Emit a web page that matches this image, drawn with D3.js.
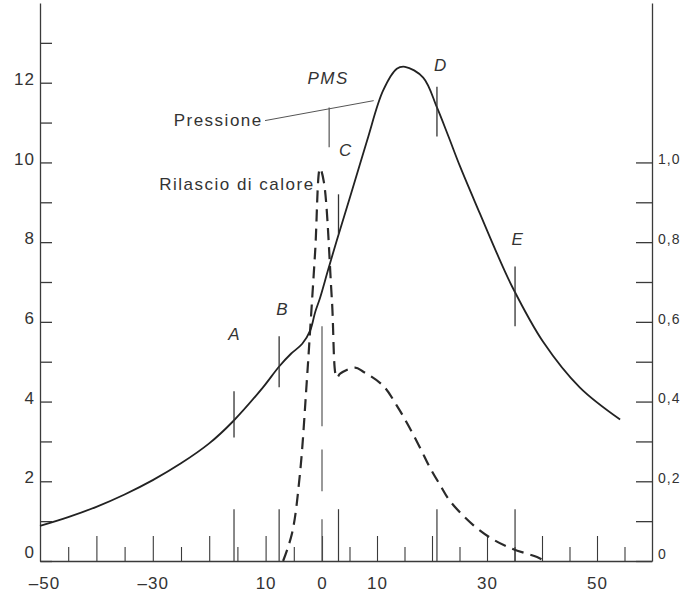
<!DOCTYPE html>
<html>
<head>
<meta charset="utf-8">
<script src="https://cdn.jsdelivr.net/npm/d3@7"></script>
<style>
  body { margin: 0; background: #fff; }
  svg { display: block; font-family: 'Liberation Sans', Arial, sans-serif; }
  .axis path, .axis line { stroke: #3a3a3a; stroke-width: 1.3; }
  .axis text { fill: #333; font-size: 17px; font-family: 'Liberation Sans', Arial, sans-serif; letter-spacing: 1px; }
  .note { fill: #333; font-size: 17px; letter-spacing: 1.5px; }
</style>
</head>
<body>
<svg></svg>
<script>
const d3 = window.d3

// crank angle (deg) / pressure (left scale)
let pressAngle = [-50, -45, -40, -35, -30, -25, -20, -15.8, -10.5, -7.6, -5.5, -3.5, -2.1, -1.2, -0.35, 1.1, 2.7, 5.1, 8.2, 11.1, 13.6, 15.1, 18.4, 20.9, 23, 25.1, 28.7, 31.7, 34.7, 40.2, 46.9, 54.2]
let pressValue = [0.88, 1.1, 1.36, 1.67, 2.03, 2.45, 2.95, 3.5, 4.35, 4.88, 5.2, 5.45, 5.78, 6.25, 6.6, 7.3, 8.05, 9.13, 10.55, 11.8, 12.35, 12.4, 12.13, 11.38, 10.65, 9.9, 8.72, 7.75, 6.85, 5.5, 4.35, 3.55]

// crank angle (deg) / heat release (right scale)
let heatAngle = [-6.9, -5.3, -3.9, -2.7, -2.1, -1.2, -0.35, 0.35, 1.8, 2.7, 3.3, 6, 7.5, 11.1, 13.6, 15.5, 17.8, 19.6, 21.5, 23.3, 27.5, 31, 34.7, 39.1, 40.5]
let heatValue = [0, 0.07, 0.22, 0.45, 0.58, 0.78, 0.985, 0.95, 0.655, 0.46, 0.47, 0.485, 0.475, 0.44, 0.39, 0.345, 0.285, 0.235, 0.19, 0.15, 0.09, 0.055, 0.03, 0.01, 0]

// points A..E marked on the pressure curve
let markNames = ['A', 'B', 'C', 'D', 'E']
let markAngle = [-15.6, -7.6, 3.0, 20.9, 35.1]
let markLow = [3.1, 4.36, 8.2, 10.65, 5.89]
let markHigh = [4.26, 5.64, 9.2, 11.9, 7.39]
let markLabelAngle = [-15.6, -7.1, 4.2, 21.5, 35.5]
let markLabelValue = [5.54, 6.17, 10.15, 12.3, 7.92]

// tick labels
let xTickValues = [-50, -30, -10, 0, 10, 30, 50]
let xTickLabels = ['\u201350', '\u201330', '10', '0', '10', '30', '50']
let leftTickLabels = ['0', '2', '4', '6', '8', '10', '12']
let rightTickLabels = ['0', '0,2', '0,4', '0,6', '0,8', '1,0']

// PMS (top dead centre) line pieces, in pressure units
let pmsSegments = [[0, 1.05], [1.75, 2.8], [3.38, 5.89]]

let width = 683
let height = 596

let svg = d3.select('svg')
    .attr('width', width)
    .attr('height', height)

// hand drawn scale: slightly wider degrees before TDC
let xScale = d3.scaleLinear()
                .domain([-50, 0, 60])
                .range([40, 322, 652])

let yScale = d3.scaleLinear()
                .domain([0, 14])
                .range([561, 3])

let yScaleRight = d3.scaleLinear()
                .domain([0, 1.4])
                .range([561, 3])

// bottom axis, ticks every 5 deg, longer every 10
let bottomTicks = d3.range(-50, 60, 5)
let xAxis = d3.axisBottom(xScale)
              .tickValues(bottomTicks)
              .tickSizeOuter(0)
              .tickPadding(6)
              .tickFormat(d => {
                let i = xTickValues.indexOf(d)
                return i < 0 ? '' : xTickLabels[i]
              })

let gx = svg.append('g')
    .attr('class', 'axis')
    .attr('transform', `translate(0, ${yScale(0)})`)
    .call(xAxis)

gx.selectAll('.tick line')
    .attr('y2', d => d === -50 ? 0 : (d % 10 === 0 ? -25 : -14))
    .style('stroke-width', 1.1)
gx.selectAll('.tick text')
    .attr('dy', '0.95em')
    .attr('dx', d => d === -50 ? 4 : 0)

// left axis, ticks pointing inward
let yAxis = d3.axisLeft(yScale)
              .tickValues(d3.range(0, 14))
              .tickSizeInner(-12)
              .tickSizeOuter(0)
              .tickPadding(5)
              .tickFormat(d => d % 2 === 0 ? leftTickLabels[d / 2] : '')

let gy = svg.append('g')
    .attr('class', 'axis')
    .attr('transform', `translate(${xScale(-50)}, 0)`)
    .call(yAxis)

gy.selectAll('.tick text')
    .attr('dy', d => d === 0 ? '-0.2em' : '0.1em')

// right axis for heat release
let yAxisRight = d3.axisRight(yScaleRight)
              .tickValues(d3.range(0, 11).map(d => d / 10))
              .tickSizeInner(-16)
              .tickSizeOuter(0)
              .tickPadding(6)
              .tickFormat(d => {
                let k = Math.round(d * 10)
                return k % 2 === 0 ? rightTickLabels[k / 2] : ''
              })

let gyr = svg.append('g')
    .attr('class', 'axis')
    .attr('transform', `translate(${xScale(60)}, 0)`)
    .call(yAxisRight)

gyr.selectAll('.tick text')
    .style('font-size', '14px')
    .attr('dy', d => d === 0 ? '-0.2em' : '0.1em')

// marker lines down at the baseline
svg.append('g')
  .selectAll('line')
  .data(markAngle)
  .enter()
  .append('line')
    .attr('x1', d => xScale(d))
    .attr('x2', d => xScale(d))
    .attr('y1', yScale(0))
    .attr('y2', yScale(1.3))
    .attr('stroke', '#3a3a3a')
    .attr('stroke-width', 1.2)

// PMS line
svg.append('g')
  .selectAll('line')
  .data(pmsSegments)
  .enter()
  .append('line')
    .attr('x1', xScale(0))
    .attr('x2', xScale(0))
    .attr('y1', d => yScale(d[0]))
    .attr('y2', d => yScale(d[1]))
    .attr('stroke', '#555')
    .attr('stroke-width', 1.2)

svg.append('line')
    .attr('x1', xScale(1.3))
    .attr('x2', xScale(1.3))
    .attr('y1', yScale(10.38))
    .attr('y2', yScale(11.38))
    .attr('stroke', '#555')
    .attr('stroke-width', 1.2)

// heat release, dashed
let heatLine = d3.line()
    .x(d => xScale(d[0]))
    .y(d => yScaleRight(d[1]))
    .curve(d3.curveCatmullRom.alpha(0.5))

svg.append('path')
    .datum(d3.zip(heatAngle, heatValue))
    .attr('d', heatLine)
    .attr('fill', 'none')
    .attr('stroke', '#2a2a2a')
    .attr('stroke-width', 2.2)
    .attr('stroke-dasharray', '12,7')

// pressure, solid
let pressLine = d3.line()
    .x(d => xScale(d[0]))
    .y(d => yScale(d[1]))
    .curve(d3.curveCatmullRom.alpha(0.5))

svg.append('path')
    .datum(d3.zip(pressAngle, pressValue))
    .attr('d', pressLine)
    .attr('fill', 'none')
    .attr('stroke', '#222')
    .attr('stroke-width', 1.8)

// A..E ticks across the curve
svg.append('g')
  .selectAll('line')
  .data(markNames)
  .enter()
  .append('line')
    .attr('x1', (d, i) => xScale(markAngle[i]))
    .attr('x2', (d, i) => xScale(markAngle[i]))
    .attr('y1', (d, i) => yScale(markLow[i]))
    .attr('y2', (d, i) => yScale(markHigh[i]))
    .attr('stroke', '#333')
    .attr('stroke-width', 1.3)

svg.append('g')
  .selectAll('text')
  .data(markNames)
  .enter()
  .append('text')
    .attr('x', (d, i) => xScale(markLabelAngle[i]))
    .attr('y', (d, i) => yScale(markLabelValue[i]))
    .style('text-anchor', 'middle')
    .style('font-style', 'italic')
    .style('font-size', '17px')
    .style('fill', '#333')
    .text(d => d)

// PMS label
svg.append('text')
    .attr('class', 'note')
    .attr('x', xScale(1.1))
    .attr('y', yScale(11.98))
    .style('text-anchor', 'middle')
    .style('font-style', 'italic')
    .text('PMS')

// curve names with leader
svg.append('line')
    .attr('x1', xScale(-10.1))
    .attr('y1', yScale(11.05))
    .attr('x2', xScale(9.4))
    .attr('y2', yScale(11.55))
    .attr('stroke', '#555')
    .attr('stroke-width', 1)

svg.append('text')
    .attr('class', 'note')
    .attr('x', xScale(-10.5))
    .attr('y', yScale(10.92))
    .style('text-anchor', 'end')
    .text('Pressione')

svg.append('text')
    .attr('class', 'note')
    .attr('x', xScale(-1.3))
    .attr('y', yScale(9.3))
    .style('text-anchor', 'end')
    .text('Rilascio di calore')
</script>
</body>
</html>
